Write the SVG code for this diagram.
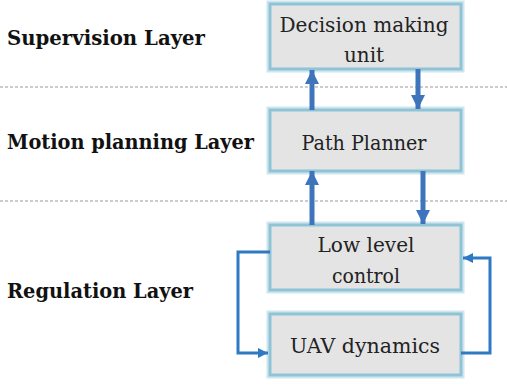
<svg xmlns="http://www.w3.org/2000/svg" width="507" height="386" viewBox="0 0 507 386">
<style>
.box{fill:#e4e4e4;stroke:#8fc3d6;stroke-width:3}
.glow{fill:none;stroke:#cfe6ef;stroke-width:7}
.lbl{font-family:'DejaVu Serif',serif;font-weight:bold;font-size:21px;fill:#111}
.txt{font-family:'DejaVu Serif',serif;font-size:21px;fill:#222;text-anchor:middle}
.dash{stroke:#9a9a9a;stroke-width:1.2;stroke-dasharray:3 2}
.big{stroke:#3d74bb;stroke-width:5;fill:none}
.loop{stroke:#2f78c4;stroke-width:3;fill:none}
</style>
<defs>
<marker id="ah" markerUnits="userSpaceOnUse" viewBox="0 0 14 14" refX="14" refY="7" markerWidth="14" markerHeight="14" orient="auto">
<path d="M0,0 L14,7 L0,14 z" fill="#3d74bb"/>
</marker>
<marker id="ah2" markerUnits="userSpaceOnUse" viewBox="0 0 10 10" refX="10" refY="5" markerWidth="10" markerHeight="10" orient="auto">
<path d="M0,0 L10,5 L0,10 z" fill="#2f78c4"/>
</marker>
</defs>
<rect width="507" height="386" fill="#ffffff"/>
<line class="dash" x1="0" y1="87" x2="507" y2="87"/>
<line class="dash" x1="0" y1="201" x2="507" y2="201"/>
<text class="lbl" x="7" y="45" textLength="198" lengthAdjust="spacingAndGlyphs">Supervision Layer</text>
<text class="lbl" x="7" y="149" textLength="247" lengthAdjust="spacingAndGlyphs">Motion planning Layer</text>
<text class="lbl" x="7" y="298" textLength="186" lengthAdjust="spacingAndGlyphs">Regulation Layer</text>
<g id="decision">
<rect class="glow" x="270" y="4" width="191" height="65"/>
<rect class="box" x="270" y="4" width="191" height="65"/>
<text class="txt" x="364" y="32" textLength="169" lengthAdjust="spacingAndGlyphs">Decision making</text>
<text class="txt" x="364" y="62" textLength="40" lengthAdjust="spacingAndGlyphs">unit</text>
</g>
<g id="planner">
<rect class="glow" x="270" y="110" width="191" height="61"/>
<rect class="box" x="270" y="110" width="191" height="61"/>
<text class="txt" x="364" y="150" textLength="125" lengthAdjust="spacingAndGlyphs">Path Planner</text>
</g>
<g id="lowlevel">
<rect class="glow" x="270" y="225" width="191" height="65"/>
<rect class="box" x="270" y="225" width="191" height="65"/>
<text class="txt" x="366" y="252" textLength="97" lengthAdjust="spacingAndGlyphs">Low level</text>
<text class="txt" x="366" y="283" textLength="68" lengthAdjust="spacingAndGlyphs">control</text>
</g>
<g id="uav">
<rect class="glow" x="270" y="314" width="191" height="61"/>
<rect class="box" x="270" y="314" width="191" height="61"/>
<text class="txt" x="365" y="353" textLength="150" lengthAdjust="spacingAndGlyphs">UAV dynamics</text>
</g>
<g id="connectors">
<line class="big" x1="312" y1="110" x2="312" y2="70" marker-end="url(#ah)"/>
<line class="big" x1="418" y1="69" x2="418" y2="109" marker-end="url(#ah)"/>
<line class="big" x1="312" y1="225" x2="312" y2="171" marker-end="url(#ah)"/>
<line class="big" x1="423" y1="171" x2="423" y2="224" marker-end="url(#ah)"/>
<path class="loop" d="M270,252 H238 V353 H268" marker-end="url(#ah2)"/>
<path class="loop" d="M461,353 H490 V258 H463" marker-end="url(#ah2)"/>
</g>
</svg>
